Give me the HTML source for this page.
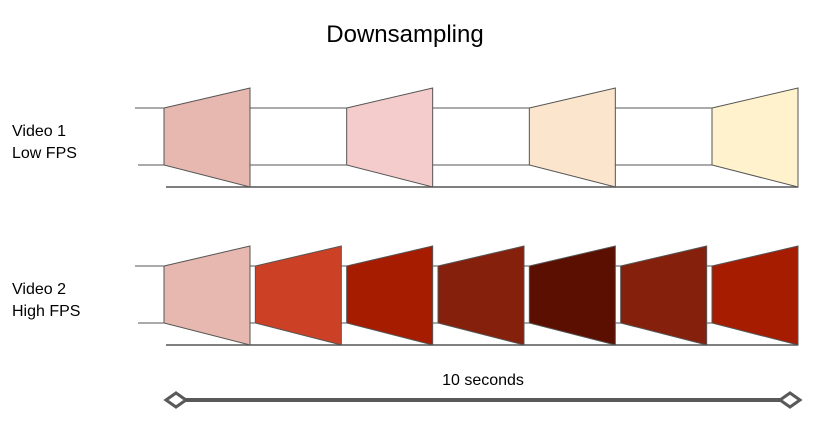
<!DOCTYPE html>
<html><head><meta charset="utf-8"><style>body{margin:0;background:#fff}svg{display:block}text{font-family:"Liberation Sans",Arial,sans-serif;fill:#000}</style></head>
<body>
<svg width="819" height="425" viewBox="0 0 819 425">
<text x="405" y="42" font-size="24" text-anchor="middle">Downsampling</text>
<text x="12" y="136" font-size="16">Video 1</text>
<text x="12" y="158" font-size="16">Low FPS</text>
<text x="12" y="294" font-size="16">Video 2</text>
<text x="12" y="316" font-size="16">High FPS</text>
<g id="rows"></g>
<text x="483" y="385" font-size="16" text-anchor="middle">10 seconds</text>
<line x1="180" y1="400" x2="785" y2="400" stroke="#595959" stroke-width="4"/>
<polygon points="166,400 176,393 186,400 176,407" fill="#fff" stroke="#595959" stroke-width="3"/>
<polygon points="780,400 790,393 800,400 790,407" fill="#fff" stroke="#595959" stroke-width="3"/>
</svg>
<script>
const row1Colors=["#e6b8af","#f4cccc","#fce5cd","#fff2cc"];
const row2Colors=["#e6b8af","#cc4125","#a61c00","#85200c","#5b0f00","#85200c","#a61c00"];
const g=document.getElementById('rows');const NS="http://www.w3.org/2000/svg";
function mk(t,a){const e=document.createElementNS(NS,t);for(const k in a)e.setAttribute(k,a[k]);g.appendChild(e);return e;}
function row(colors,y0,name){
  const top=y0,bot=y0+57,rt=y0-20,rb=y0+79;
  const x0=164,x1=798,w=86,step=(x1-w-x0)/(colors.length-1);
  let l=mk('line',{x1:135,y1:top,x2:x1,y2:top,stroke:'#555','stroke-width':1});
  
  
  l=mk('line',{x1:138,y1:bot,x2:x1,y2:bot,stroke:'#555','stroke-width':1});
  
  
  l=mk('line',{x1:166,y1:rb,x2:x1,y2:rb,stroke:'#555','stroke-width':1.5});
  
  
  colors.forEach((c,i)=>{const x=x0+i*step;
    const p=mk('polygon',{points:`${x},${top} ${x+w},${rt} ${x+w},${rb} ${x},${bot}`,fill:c,stroke:'#555','stroke-width':1});
    
    });
}
row(row1Colors,108,'video1');
row(row2Colors,266,'video2');
</script>
</body></html>
